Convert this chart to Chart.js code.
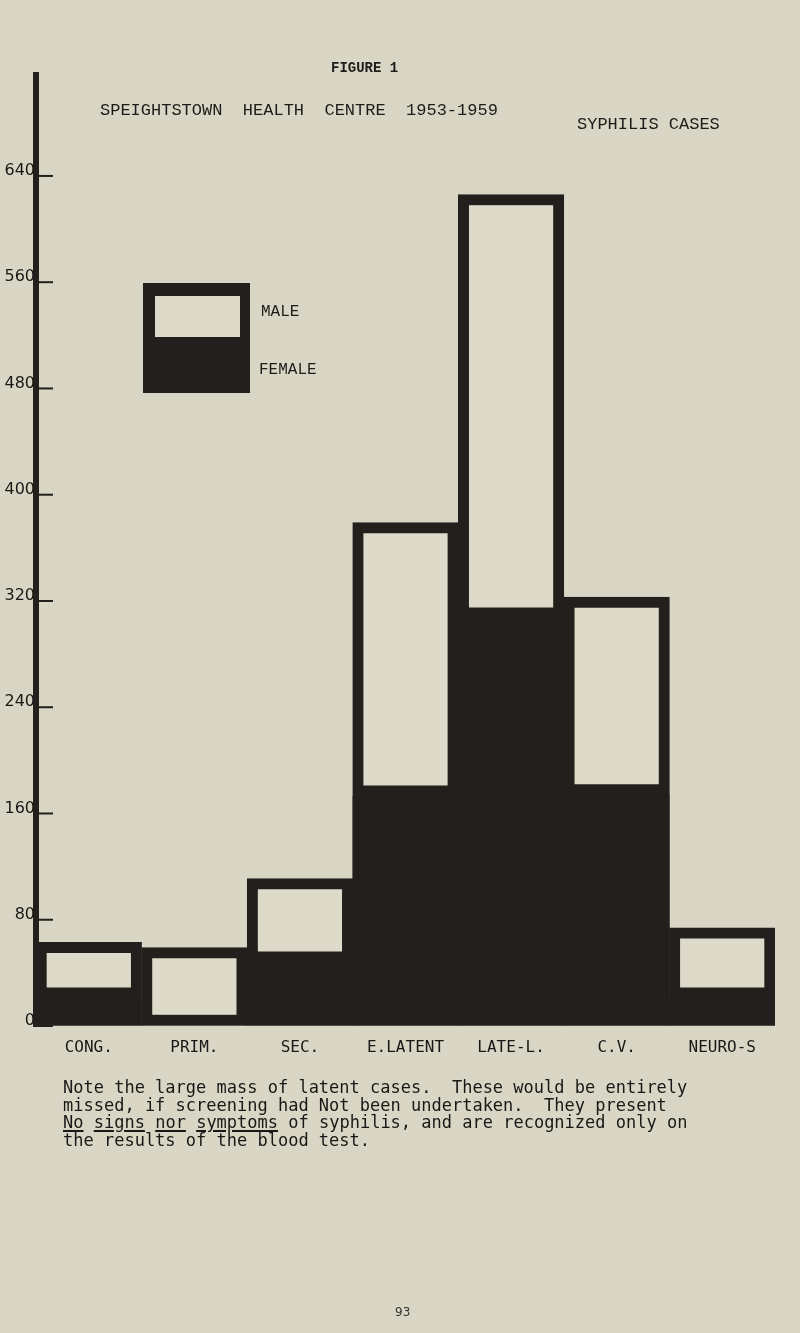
<!DOCTYPE html>
<html><head><meta charset="utf-8">
<script src="https://cdn.jsdelivr.net/npm/chart.js@4/dist/chart.umd.min.js"></script>
<style>
html,body{margin:0;padding:0;background:#d9d6c5;}
#wrap{position:relative;width:800px;height:1333px;overflow:hidden;background:#d9d6c5;}
#c{position:absolute;left:0;top:0;}
.t{position:absolute;white-space:pre;color:#1e1c1a;font-family:"Liberation Mono",monospace;line-height:1;}
.note{position:absolute;left:63px;top:1079px;white-space:pre;color:#1a1816;font-family:"DejaVu Sans Mono",monospace;font-size:17px;line-height:17.7px;}
.note u{text-decoration-thickness:2px;text-underline-offset:2px;}
.lg{position:absolute;}
</style></head><body>
<div id="wrap">
<canvas id="c" width="800" height="1333"></canvas>
<div class="t" style="left:331px;top:61px;font-size:14px;font-weight:bold;">FIGURE 1</div>
<div class="t" style="left:100px;top:102px;font-size:17px;">SPEIGHTSTOWN  HEALTH  CENTRE  1953-1959</div>
<div class="t" style="left:577px;top:116px;font-size:17px;">SYPHILIS CASES</div>
<div class="lg" style="left:143px;top:283px;width:107px;height:110px;background:#221f1c;"></div>
<div class="lg" style="left:155px;top:296px;width:85px;height:41px;background:#dddac9;"></div>
<div class="t" style="left:261px;top:304px;font-size:16px;">MALE</div>
<div class="t" style="left:259px;top:362px;font-size:16px;">FEMALE</div>
<div class="note">Note the large mass of latent cases.  These would be entirely
missed, if screening had Not been undertaken.  They present
<u>No</u> <u>signs</u> <u>nor</u> <u>symptoms</u> of syphilis, and are recognized only on
the results of the blood test.</div>
<div class="t" style="left:395px;top:1306px;font-size:12px;font-family:'DejaVu Sans',sans-serif;color:#333;">93</div>
</div>
<script>
const categories = ["CONG.", "PRIM.", "SEC.", "E.LATENT", "LATE-L.", "C.V.", "NEURO-S"];
const femaleCases = [21, 0, 48, 173, 307, 174, 21];
const maleCases = [42, 59, 63, 206, 319, 149, 53];
const yTickValues = [0, 80, 160, 240, 320, 400, 480, 560, 640];
const yAxisMax = 716;

const DARK = '#221f1c';
const PAPER = '#dddac9';

const innerTicks = {
  id: 'innerTicks',
  beforeDatasetsDraw(chart) {
    const y = chart.scales.y, ctx = chart.ctx, left = chart.chartArea.left;
    ctx.save();
    ctx.strokeStyle = DARK;
    ctx.lineWidth = 2;
    y.ticks.forEach((t, i) => {
      const py = y.getPixelForTick(i);
      ctx.beginPath();
      ctx.moveTo(left, py);
      ctx.lineTo(left + 17, py);
      ctx.stroke();
    });
    ctx.restore();
  }
};

new Chart(document.getElementById('c'), {
  type: 'bar',
  data: {
    labels: categories,
    datasets: [
      { label: 'FEMALE', data: femaleCases, backgroundColor: DARK, borderWidth: 0 },
      { label: 'MALE', data: maleCases, backgroundColor: PAPER, borderColor: DARK, borderWidth: 11, borderSkipped: false }
    ]
  },
  options: {
    responsive: false,
    animation: false,
    devicePixelRatio: 1,
    layout: { padding: { top: 75, left: 0, right: 25, bottom: 271 } },
    datasets: { bar: { barPercentage: 1, categoryPercentage: 1 } },
    plugins: { legend: { display: false }, tooltip: { enabled: false } },
    scales: {
      x: {
        stacked: true,
        grid: { display: false },
        border: { display: false },
        ticks: { color: '#1a1816', font: { family: 'DejaVu Sans Mono', size: 16 }, padding: 4, maxRotation: 0, autoSkip: false },
        afterFit(s) { s.height = 36; }
      },
      y: {
        stacked: true,
        min: 0,
        max: yAxisMax,
        afterBuildTicks(s) { s.ticks = yTickValues.map(v => ({ value: v })); },
        grid: { display: true, drawOnChartArea: false, drawTicks: false },
        border: { display: true, width: 6, color: DARK },
        ticks: { color: '#1a1816', font: { family: 'DejaVu Sans', size: 16 }, padding: 1, labelOffset: -5, callback: v => String(v) },
        afterFit(s) { s.width = 36; }
      }
    }
  },
  plugins: [innerTicks]
});
</script>
</body></html>
